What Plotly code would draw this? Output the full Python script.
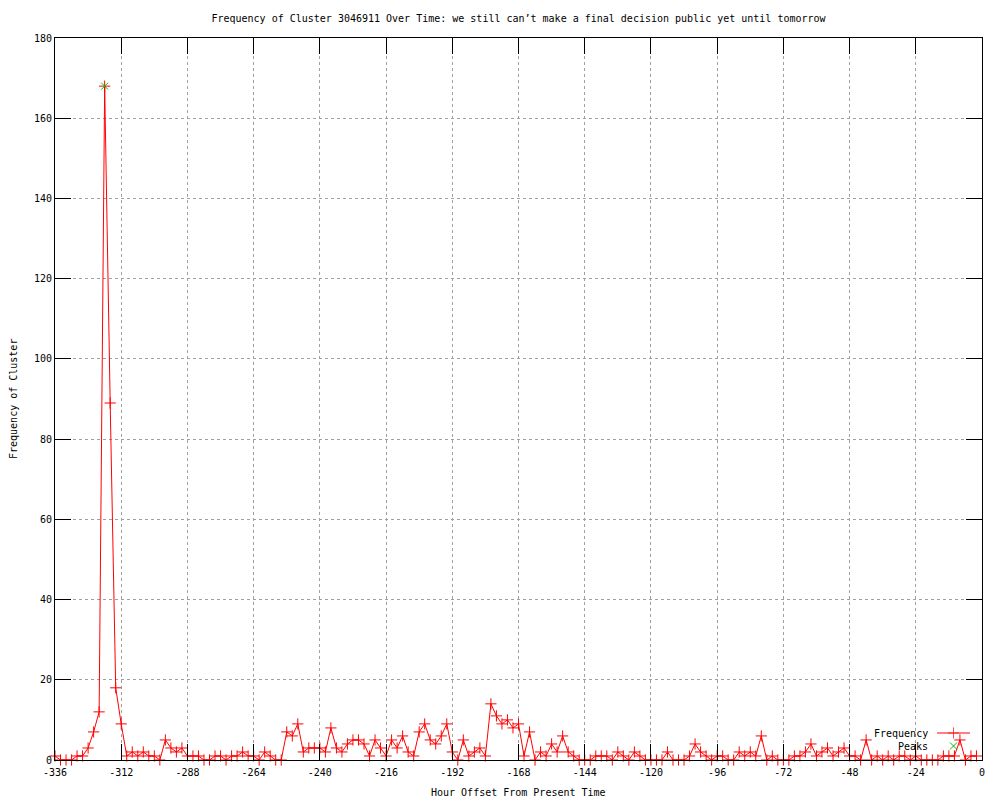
import plotly.graph_objects as go

# ---- data ----
hours = [-336, -334, -332, -330, -328, -326, -324, -322, -320, -318,
         -316, -314, -312, -310, -308, -306, -304, -302, -300, -298,
         -296, -294, -292, -290, -288, -286, -284, -282, -280, -278,
         -276, -274, -272, -270, -268, -266, -264, -262, -260, -258,
         -256, -254, -252, -250, -248, -246, -244, -242, -240, -238,
         -236, -234, -232, -230, -228, -226, -224, -222, -220, -218,
         -216, -214, -212, -210, -208, -206, -204, -202, -200, -198,
         -196, -194, -192, -190, -188, -186, -184, -182, -180, -178,
         -176, -174, -172, -170, -168, -166, -164, -162, -160, -158,
         -156, -154, -152, -150, -148, -146, -144, -142, -140, -138,
         -136, -134, -132, -130, -128, -126, -124, -122, -120, -118,
         -116, -114, -112, -110, -108, -106, -104, -102, -100, -98,
         -96, -94, -92, -90, -88, -86, -84, -82, -80, -78,
         -76, -74, -72, -70, -68, -66, -64, -62, -60, -58,
         -56, -54, -52, -50, -48, -46, -44, -42, -40, -38,
         -36, -34, -32, -30, -28, -26, -24, -22, -20, -18,
         -16, -14, -12, -10, -8, -6, -4, -2]

frequency = [1, 0, 0, 0, 1, 1, 3, 7, 12, 168,
             89, 18, 9, 1, 2, 1, 2, 1, 1, 0,
             5, 3, 2, 3, 1, 1, 1, 0, 0, 1,
             1, 0, 1, 1, 2, 1, 1, 0, 2, 1,
             0, 0, 7, 6, 9, 2, 3, 3, 3, 2,
             8, 3, 2, 4, 5, 5, 4, 1, 5, 3,
             1, 5, 3, 6, 2, 1, 7, 9, 5, 4,
             6, 9, 2, 0, 5, 1, 2, 3, 1, 14,
             11, 9, 10, 8, 9, 1, 7, 0, 2, 1,
             4, 2, 6, 2, 1, 0, 0, 0, 1, 1,
             1, 0, 2, 1, 0, 2, 1, 0, 0, 0,
             0, 2, 0, 0, 0, 1, 4, 2, 1, 0,
             1, 1, 0, 0, 2, 1, 2, 1, 6, 0,
             1, 0, 0, 0, 1, 1, 2, 4, 1, 2,
             3, 1, 2, 3, 1, 1, 0, 5, 0, 1,
             0, 1, 0, 1, 1, 0, 1, 0, 0, 0,
             0, 1, 1, 1, 5, 0, 1, 1]

peak_hours = [-318]
peak_values = [168]

x_ticks = [-336, -312, -288, -264, -240, -216, -192, -168, -144, -120, -96, -72, -48, -24, 0]
y_ticks = [0, 20, 40, 60, 80, 100, 120, 140, 160, 180]

title_text = "Frequency of Cluster 3046911 Over Time: we still can\u2019t make a final decision public yet until tomorrow"
x_title = "Hour Offset From Present Time"
y_title = "Frequency of Cluster"

RED = "#ff0000"
GREEN = "#00c000"
FONT = "DejaVu Sans Mono"

fig = go.Figure()

fig.add_trace(go.Scatter(
    x=hours, y=frequency, mode="lines+markers", name="Frequency",
    line=dict(color=RED, width=1),
    marker=dict(symbol="cross-thin", size=8, color=RED, line=dict(color=RED, width=1)),
    showlegend=False, cliponaxis=False,
))
fig.add_trace(go.Scatter(
    x=peak_hours, y=peak_values, mode="markers", name="Peaks",
    marker=dict(symbol="x-thin", size=7, color=GREEN, line=dict(color=GREEN, width=1)),
    showlegend=False, cliponaxis=False,
))

# ---- custom gnuplot-style key (text left of sample), on a pixel overlay axis ----
fig.add_trace(go.Scatter(
    x=[937, 953.5, 970], y=[733, 733, 733], mode="lines+markers",
    line=dict(color=RED, width=1),
    marker=dict(symbol="cross-thin", size=[0, 8, 0], color=RED, line=dict(color=RED, width=1)),
    xaxis="x2", yaxis="y2", showlegend=False, hoverinfo="skip",
))
fig.add_trace(go.Scatter(
    x=[953.5], y=[746], mode="markers",
    marker=dict(symbol="x-thin", size=7, color=GREEN, line=dict(color=GREEN, width=1)),
    xaxis="x2", yaxis="y2", showlegend=False, hoverinfo="skip",
))

axis_common = dict(
    showline=True, linecolor="black", linewidth=1, mirror="ticks",
    ticks="inside", ticklen=16, tickwidth=1, tickcolor="black",
    showgrid=True, gridcolor="#a0a0a0", griddash="dot", gridwidth=1,
    zeroline=False, automargin=False,
    tickfont=dict(family=FONT, size=10, color="black"),
)

fig.update_layout(
    width=1000, height=800,
    margin=dict(l=55, r=18, t=38, b=40, pad=0),
    plot_bgcolor="white", paper_bgcolor="white",
    showlegend=False,
    title=dict(text=title_text, x=0.5185, xanchor="center", y=1 - 18 / 800, yanchor="middle",
               xref="container", yref="container",
               font=dict(family=FONT, size=10, color="black")),
    xaxis=dict(range=[-336, 0], tickvals=x_ticks, ticktext=[str(v) for v in x_ticks],
               ticklabelstandoff=3, **axis_common),
    yaxis=dict(range=[0, 180], tickvals=y_ticks, ticktext=[str(v) for v in y_ticks], **axis_common),
    xaxis2=dict(overlaying="x", range=[55, 982], visible=False, anchor="y2"),
    yaxis2=dict(overlaying="y", range=[760, 38], visible=False, anchor="x2"),
    annotations=[
        dict(text="Frequency", x=930, y=733, xref="x2", yref="y2", xanchor="right", yanchor="middle",
             showarrow=False, font=dict(family=FONT, size=10, color="black")),
        dict(text="Peaks", x=930, y=746, xref="x2", yref="y2", xanchor="right", yanchor="middle",
             showarrow=False, font=dict(family=FONT, size=10, color="black")),
        dict(text=x_title, x=0.5, y=-(792 - 760) / 722, xref="paper", yref="paper",
             xanchor="center", yanchor="middle", showarrow=False,
             font=dict(family=FONT, size=10, color="black")),
        dict(text=y_title, x=-(55 - 13) / 927, y=0.5, xref="paper", yref="paper",
             xanchor="center", yanchor="middle", textangle=-90, showarrow=False,
             font=dict(family=FONT, size=10, color="black")),
    ],
)

fig.write_html("out.html", config={"displayModeBar": False},
               post_script="document.body.style.margin='0';")
